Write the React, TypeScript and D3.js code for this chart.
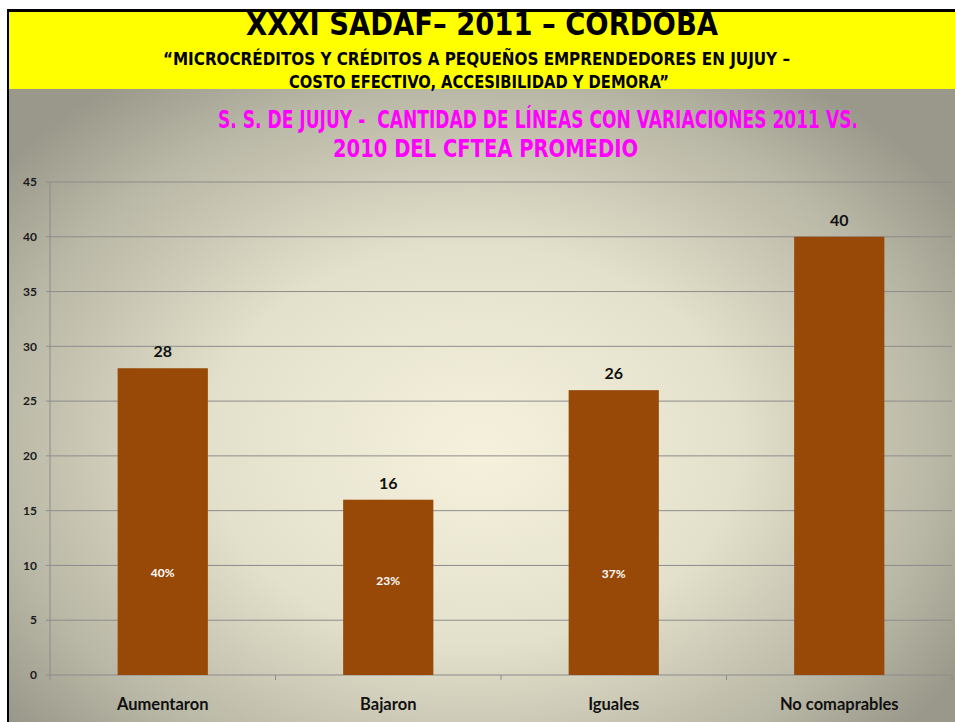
import React from "react";
import * as d3 from "d3";

// chart values
const categories = ["Aumentaron", "Bajaron", "Iguales", "No comaprables"];
const counts = [28, 16, 26, 40];
const shares = ["40%", "23%", "37%", ""];
const shareAt = [9.3, 8.6, 9.2, 0]; // height (in axis units) where the % label sits
const yMax = 45;

const W = 955;
const H = 722;
const narrow = "'Liberation Sans Narrow', 'DejaVu Sans Condensed', sans-serif";
const body = "Lato, 'Open Sans', sans-serif";

// squeezed header text: scaled horizontally so the box really is `width` wide
function FitText({x, y, width, squeeze = 1, size, fill = "#000", children}) {
    return (
        <g transform={`translate(${x},${y}) scale(${squeeze},1)`}>
            <text x={0} y={0} fontFamily={narrow} fontWeight="bold" fontSize={size} fill={fill}
                  textLength={width / squeeze} lengthAdjust="spacingAndGlyphs" xmlSpace="preserve">{children}</text>
        </g>
    );
}

function App() {
    const x = d3.scaleBand<string>().domain(categories).range([50, 952]).padding(0);
    const y = d3.scaleLinear().domain([0, yMax]).range([675, 182]);
    const barW = x.bandwidth() * 0.4;
    const yTicks = y.ticks(9);
    const bounds = categories.map(c => x(c) as number).concat([952]);

    return (
        <svg width={W} height={H} style={{position: "absolute", left: 0, top: 0, display: "block"}}>
            <defs>
                <radialGradient id="bg" cx="0.48" cy="0.6" r="0.62" fx="0.5" fy="0.62">
                    <stop offset="0" stopColor="#f5f1dc"/>
                    <stop offset="0.45" stopColor="#e3e0cb"/>
                    <stop offset="0.8" stopColor="#b9b7a5"/>
                    <stop offset="1" stopColor="#9a988a"/>
                </radialGradient>
            </defs>
            <rect x={0} y={0} width={W} height={H} fill="#fff"/>
            <rect x={9} y={12} width={W - 9} height={H - 12} fill="url(#bg)"/>
            <rect x={9} y={12} width={W - 9} height={77} fill="#ffff00"/>
            <rect x={7} y={9} width={W - 7} height={3} fill="#000"/>
            <rect x={7} y={9} width={2} height={H - 9} fill="#000"/>

            {/* header */}
            <FitText x={246} y={35} width={472} squeeze={0.8} size={32}>XXXI SADAF– 2011 – CORDOBA</FitText>
            <FitText x={163} y={65} width={627} squeeze={0.85} size={18}>“MICROCRÉDITOS Y CRÉDITOS A PEQUEÑOS EMPRENDEDORES EN JUJUY –</FitText>
            <FitText x={289} y={88} width={380} squeeze={0.85} size={18}>COSTO EFECTIVO, ACCESIBILIDAD Y DEMORA”</FitText>
            <FitText x={218} y={128} width={640} squeeze={0.72} size={24} fill="#ff00ff">S. S. DE JUJUY -  CANTIDAD DE LÍNEAS CON VARIACIONES 2011 VS.</FitText>
            <FitText x={333} y={157} width={305} squeeze={0.8} size={24} fill="#ff00ff">2010 DEL CFTEA PROMEDIO</FitText>

            {/* grid + y axis */}
            {yTicks.map(t => (
                <g key={t}>
                    <line x1={46} x2={952} y1={y(t)} y2={y(t)} stroke="#8c8c8c" strokeWidth={1}/>
                    <text x={37} y={y(t)} dy="0.35em" textAnchor="end" fontFamily={body}
                          fontWeight="bold" fontSize={12} fill="#1a1a1a">{t}</text>
                </g>
            ))}
            <line x1={50} x2={50} y1={y(yMax)} y2={y(0)} stroke="#8c8c8c"/>
            {bounds.map((b, i) => (
                <line key={i} x1={b} x2={b} y1={y(0)} y2={y(0) + 5} stroke="#8c8c8c"/>
            ))}

            {/* bars */}
            {categories.map((c, i) => {
                const cx = (x(c) as number) + x.bandwidth() / 2;
                return (
                    <g key={c}>
                        <rect x={cx - barW / 2} y={y(counts[i])} width={barW}
                              height={y(0) - y(counts[i])} fill="#994907"/>
                        <text x={cx} y={y(counts[i]) - 11} textAnchor="middle" fontFamily={body}
                              fontWeight="bold" fontSize={16} fill="#111">{counts[i]}</text>
                        {shares[i] && (
                            <text x={cx} y={y(shareAt[i])} dy="0.35em" textAnchor="middle" fontFamily={body}
                                  fontWeight="bold" fontSize={12} fill="#fff">{shares[i]}</text>
                        )}
                        <text x={cx} y={710} textAnchor="middle" fontFamily={body}
                              fontWeight="bold" fontSize={16.5} fill="#111">{c}</text>
                    </g>
                );
            })}
        </svg>
    );
}

export default App;
